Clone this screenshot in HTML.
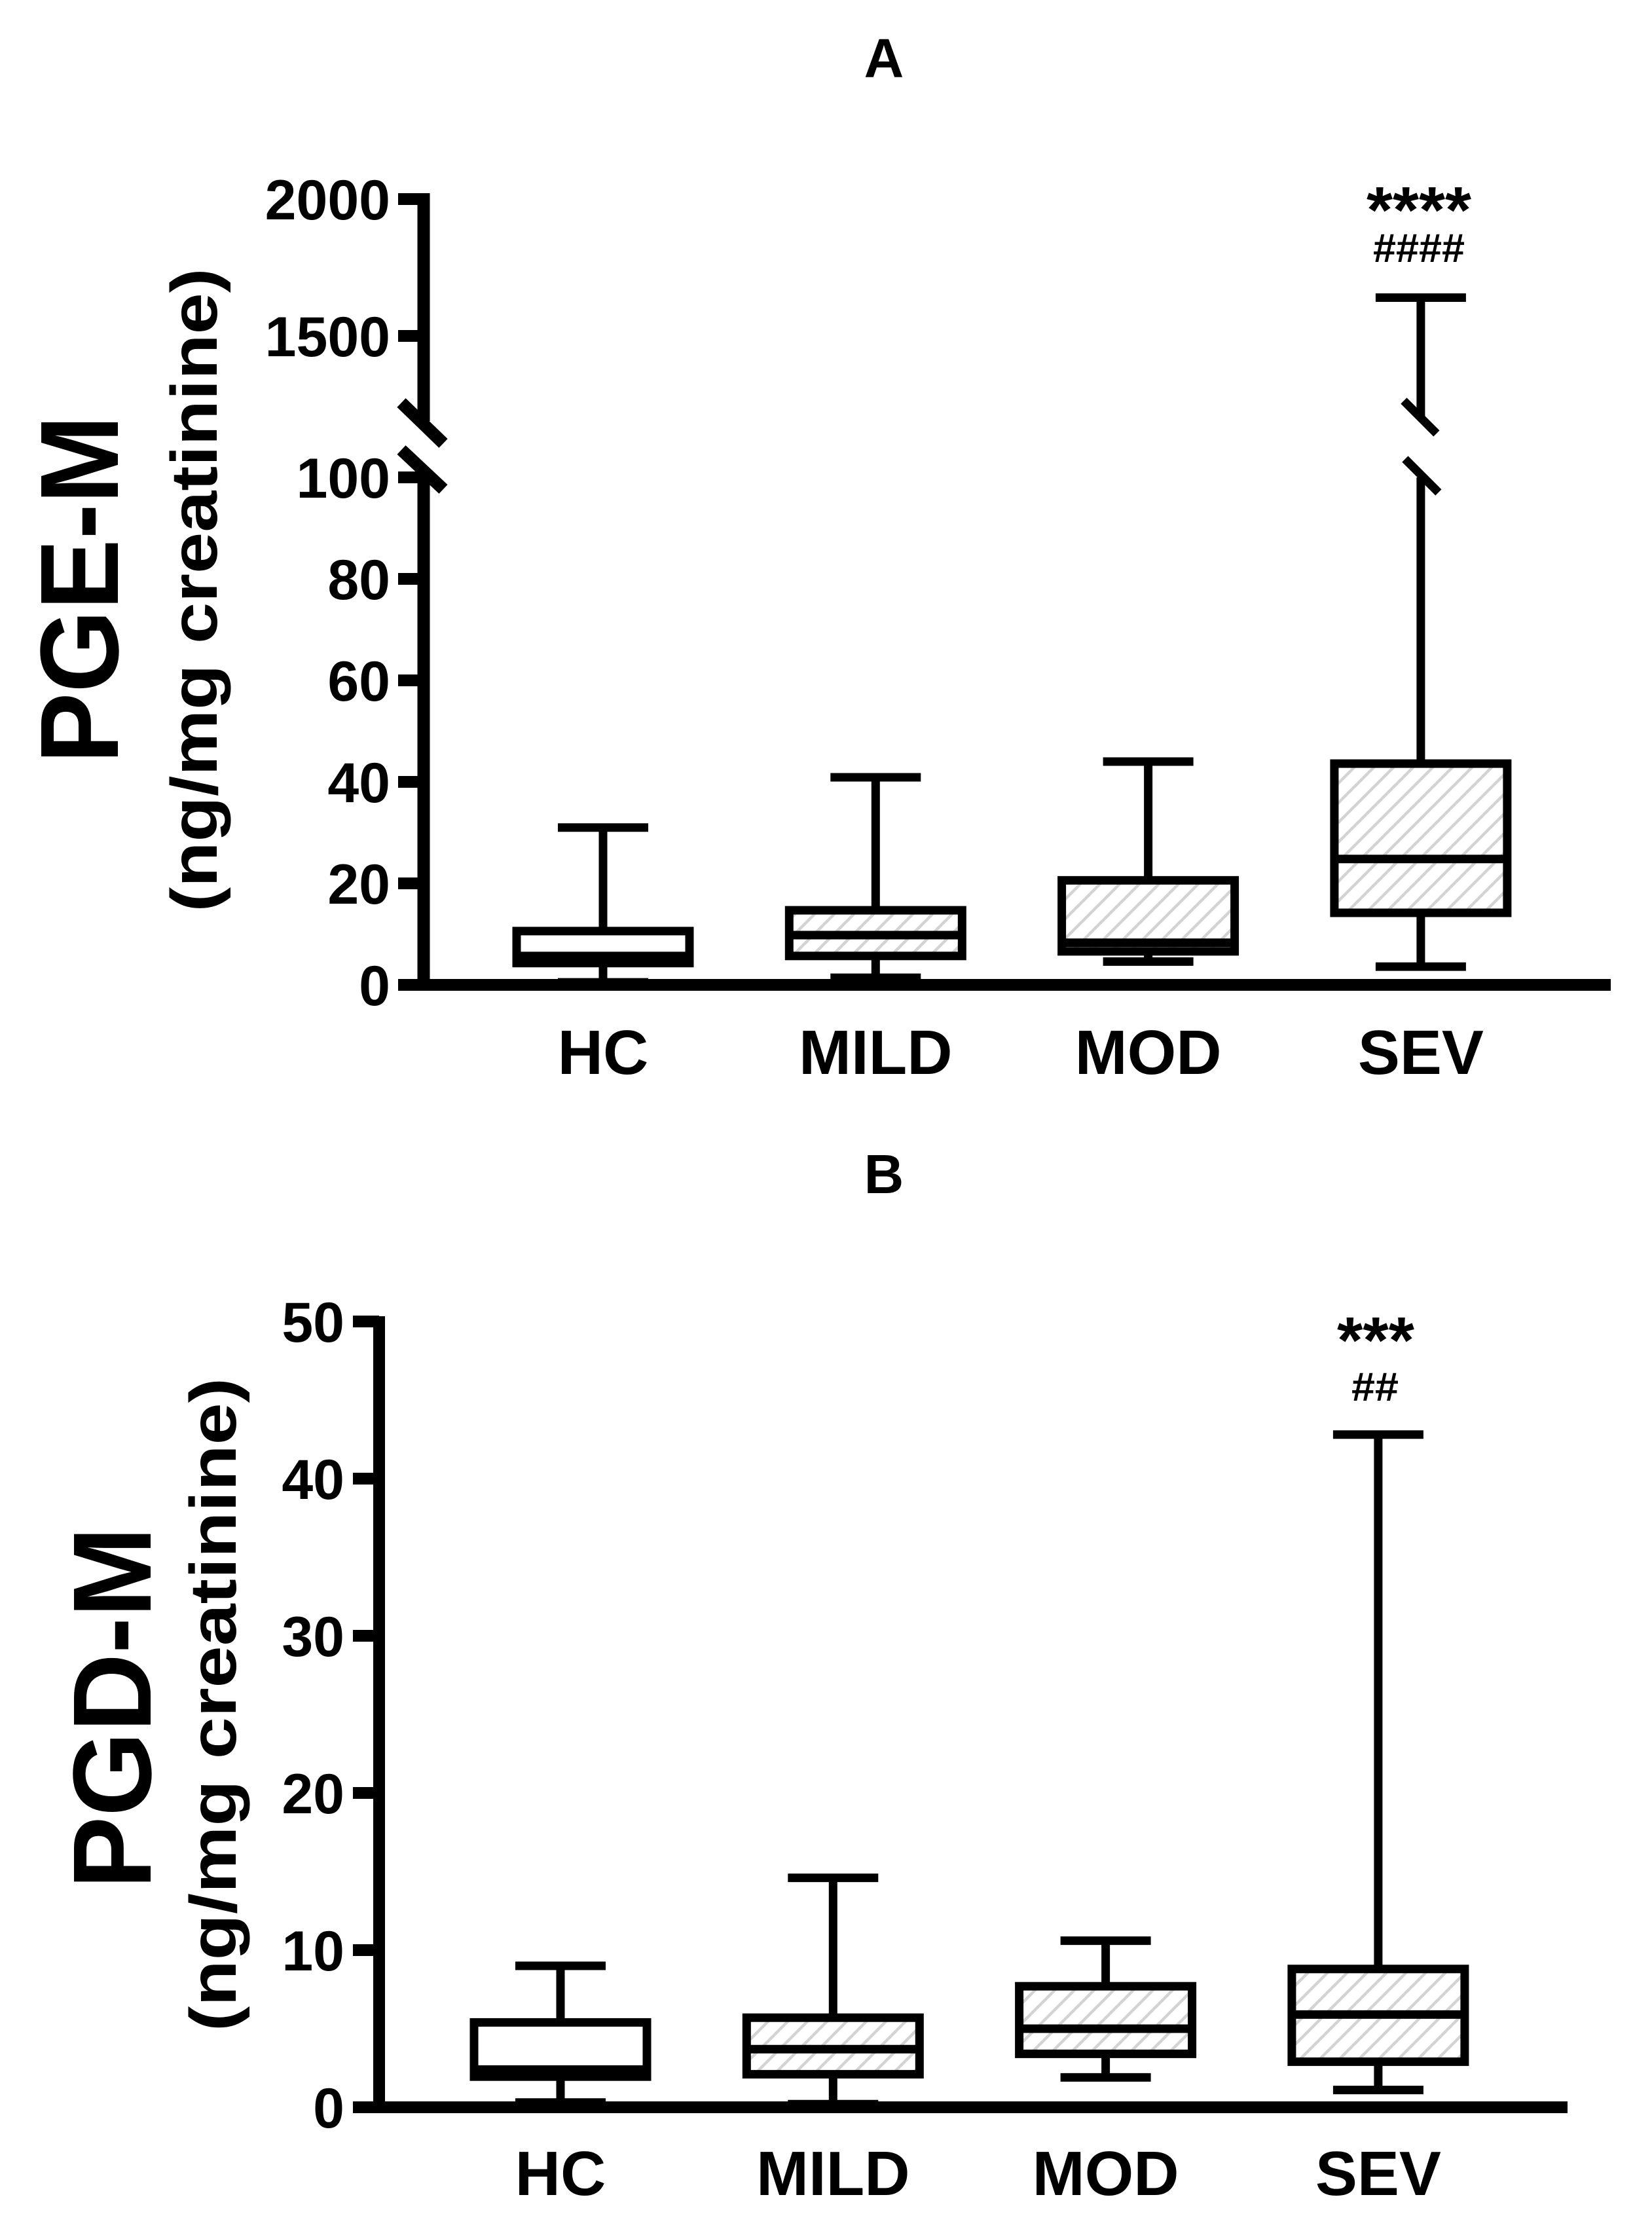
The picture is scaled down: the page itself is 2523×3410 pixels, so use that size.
<!DOCTYPE html>
<html><head><meta charset="utf-8">
<style>
html,body{margin:0;padding:0;background:#fff;}
svg{display:block;}
text{font-family:"Liberation Sans",Arial,sans-serif;font-weight:bold;fill:#000;}
</style></head>
<body>
<svg id="fig" width="2523" height="3410" viewBox="0 0 2523 3410" xmlns="http://www.w3.org/2000/svg">
<defs>
<pattern id="hatch" patternUnits="userSpaceOnUse" width="30" height="30">
<path d="M-7.5,7.5 l15,-15 M0,30 l30,-30 M22.5,37.5 l15,-15" stroke="#d3d3d3" stroke-width="4.5"/>
</pattern>
</defs>
<g id="panelA"></g>
<g id="panelB"></g>
</svg>
<script>
// ---- data ----
const categories = ["HC","MILD","MOD","SEV"];
const hatched = [false,true,true,true];
// Panel A (PGE-M)
const aMin = [0.5,1.4,4.6,3.6];
const aQ1 = [4.3,5.7,6.6,14.2];
const aMed = [5.7,9.8,8.3,24.8];
const aQ3 = [10.6,14.7,20.6,43.6];
const aMax = [31,40.9,44,1640];
const aTicks = [0,20,40,60,80,100,1500,2000];
// Panel B (PGD-M)
const bMin = [0.3,0.2,1.9,1.1];
const bQ1 = [1.95,2.1,3.4,2.9];
const bMed = [2.4,3.7,5.0,5.9];
const bQ3 = [5.4,5.7,7.7,8.8];
const bMax = [9.0,14.6,10.6,42.8];
const bTicks = [0,10,20,30,40,50];

const NS="http://www.w3.org/2000/svg";
function mk(parent,tag,attrs,txt){
  const e=document.createElementNS(NS,tag);
  for(const k in attrs) e.setAttribute(k,attrs[k]);
  if(txt!==undefined) e.textContent=txt;
  parent.appendChild(e); return e;
}
function line(p,x1,y1,x2,y2,w){return mk(p,"line",{x1:x1,y1:y1,x2:x2,y2:y2,stroke:"#000","stroke-width":w});}

function yA(v){ return v<=100 ? 1504 - v*7.75 : 513 - (v-1500)*209/500; }
function xA(i){ return 921 + i*416.3; }
function yB(v){ return 3218 - v*24; }
function xB(i){ return 856 + i*416.3; }

function drawBoxes(g,xf,yf,mn,q1,md,q3,mx,broken){
  for(let i=0;i<categories.length;i++){
    const cx=xf(i);
    const box=mk(g,"g",{});
    
    
    if(broken && mx[i]>100){
      line(box,cx,yf(q3[i]),cx,yf(100),13);
      line(box,cx,yf(mx[i]),cx,637,13);
      line(box,cx-26,612,cx+24,662,13);
      line(box,cx-24,701,cx+27,752,13);
    } else {
      line(box,cx,yf(q3[i]),cx,yf(mx[i]),13);
    }
    line(box,cx,yf(q1[i]),cx,yf(mn[i]),13);
    line(box,cx-69,yf(mx[i]),cx+69,yf(mx[i]),13);
    line(box,cx-69,yf(mn[i]),cx+69,yf(mn[i]),13);
    mk(box,"rect",{x:cx-132,y:yf(q3[i]),width:264,height:yf(q1[i])-yf(q3[i]),
      fill:hatched[i]?"url(#hatch)":"#fff",stroke:"#000","stroke-width":13});
    line(box,cx-132,yf(md[i]),cx+132,yf(md[i]),13);
  }
}

// ===== Panel A =====
const A=document.getElementById("panelA");
let t=mk(A,"text",{x:1350,y:118,"font-size":84,"text-anchor":"middle"},"A");

let ya=mk(A,"g",{});
line(ya,647,295,647,643,19);
line(ya,647,720,647,1513,19);
line(ya,613,615,677,677,19);
line(ya,613,687,677,747,19);
for(const v of aTicks){
  const y=yA(v);
  line(ya,608,y,647,y,18);
  const tl=mk(ya,"text",{x:596,y:y+31,"font-size":86,"text-anchor":"end"},String(v));
  
}
let xa=line(A,609,1504,2460,1504,18);

drawBoxes(A,xA,yA,aMin,aQ1,aMed,aQ3,aMax,true);
for(let i=0;i<categories.length;i++){
  const l=mk(A,"text",{x:xA(i),y:1640,"font-size":96,"text-anchor":"middle"},categories[i]);
  
  
}
t=mk(A,"text",{x:0,y:0,"font-size":170,"text-anchor":"middle",textLength:532,lengthAdjust:"spacingAndGlyphs",transform:"translate(180,900) rotate(-90)"},"PGE-M");

t=mk(A,"text",{x:0,y:0,"font-size":100,"text-anchor":"middle",textLength:983,lengthAdjust:"spacingAndGlyphs",transform:"translate(331,901) rotate(-90)"},"(ng/mg creatinine)");

t=mk(A,"text",{x:2167,y:355,"font-size":100,"font-weight":"normal","text-anchor":"middle",textLength:160,lengthAdjust:"spacingAndGlyphs"},"****");

t=mk(A,"text",{x:2167,y:400,"font-size":62,"text-anchor":"middle",textLength:140,lengthAdjust:"spacingAndGlyphs"},"####");


// ===== Panel B =====
const B=document.getElementById("panelB");
t=mk(B,"text",{x:1350,y:1822,"font-size":84,"text-anchor":"middle"},"B");

let yb=mk(B,"g",{});
line(yb,579,2010,579,3227,18);
for(const v of bTicks){
  const y=yB(v);
  line(yb,539,y,579,y,18);
  const tl=mk(yb,"text",{x:526,y:y+31,"font-size":86,"text-anchor":"end"},String(v));
  
}
let xb=line(B,540,3218,2394,3218,18);

drawBoxes(B,xB,yB,bMin,bQ1,bMed,bQ3,bMax,false);
for(let i=0;i<categories.length;i++){
  const l=mk(B,"text",{x:xB(i),y:3352,"font-size":96,"text-anchor":"middle"},categories[i]);
  
  
}
t=mk(B,"text",{x:0,y:0,"font-size":170,"text-anchor":"middle",textLength:553,lengthAdjust:"spacingAndGlyphs",transform:"translate(230,2608) rotate(-90)"},"PGD-M");

t=mk(B,"text",{x:0,y:0,"font-size":100,"text-anchor":"middle",textLength:998,lengthAdjust:"spacingAndGlyphs",transform:"translate(360,2603) rotate(-90)"},"(ng/mg creatinine)");

t=mk(B,"text",{x:2101,y:2081,"font-size":100,"font-weight":"normal","text-anchor":"middle",textLength:118,lengthAdjust:"spacingAndGlyphs"},"***");

t=mk(B,"text",{x:2100,y:2139,"font-size":62,"text-anchor":"middle",textLength:72,lengthAdjust:"spacingAndGlyphs"},"##");

</script>
</body></html>
